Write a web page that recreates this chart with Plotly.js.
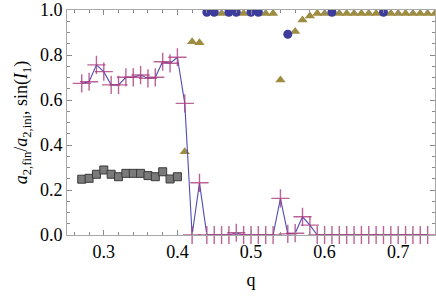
<!DOCTYPE html>
<html>
<head>
<meta charset="utf-8">
<script src="https://cdn.plot.ly/plotly-3.0.1.min.js"></script>
<style>html,body{margin:0;padding:0;background:#fff;}#chart{width:436px;height:302px;}</style>
</head>
<body>
<div id="chart"></div>
<script>
// ratio a2,fin/a2,ini (plus markers joined by a line)
const qPlus = [0.27,0.28,0.29,0.30,0.31,0.32,0.33,0.34,0.35,0.36,0.37,0.38,0.39,0.40,0.41,
  0.42,0.43,0.44,0.45,0.46,0.47,0.48,0.49,0.50,0.51,0.52,0.53,0.54,0.55,0.56,0.57,0.58,
  0.59,0.60,0.61,0.62,0.63,0.64,0.65,0.66,0.67,0.68,0.69,0.70,0.71,0.72,0.73,0.74];
const ratioPlus = [0.674,0.681,0.756,0.726,0.667,0.667,0.701,0.701,0.711,0.696,0.701,0.770,0.763,0.790,0.585,
  0.0,0.232,0.0,0.0,0.0,0.0,0.01,0.0,0.0,0.0,0.0,0.0,0.163,0.005,0.008,0.081,0.044,
  0.0,0.0,0.0,0.0,0.0,0.0,0.0,0.0,0.0,0.0,0.0,0.0,0.0,0.0,0.0,0.0];

// grey squares
const qSquare = [0.27,0.28,0.29,0.30,0.31,0.32,0.33,0.34,0.35,0.36,0.37,0.38,0.39,0.40];
const valSquare = [0.248,0.252,0.270,0.289,0.270,0.259,0.274,0.274,0.274,0.264,0.259,0.281,0.249,0.259];

// sin(I1) triangles
const qTri = [0.41,0.42,0.43,0.46,0.49,0.52,0.53,0.54,0.56,0.57,0.58,0.59,0.60,
  0.62,0.63,0.64,0.65,0.66,0.67,0.69,0.70,0.71,0.72,0.73,0.74,0.75];
const valTri = [0.370,0.859,0.855,0.985,0.985,0.985,0.985,0.689,0.904,0.956,0.973,0.985,0.985,
  0.985,0.985,0.985,0.985,0.985,0.985,0.985,0.985,0.985,0.985,0.985,0.985,0.985];

// sin(I1) circles
const qCirc = [0.44,0.45,0.47,0.48,0.50,0.51,0.55,0.61,0.68];
const valCirc = [0.99,0.99,0.99,0.99,0.99,0.99,0.892,0.99,0.99];

const serif = 'Liberation Serif, Times New Roman, serif';

const traces = [
  {x:qSquare, y:valSquare, type:'scatter', mode:'markers',
   marker:{symbol:'square', size:8, color:'#7a7a7a', line:{color:'#3a3a3a', width:1}}},
  {x:qTri, y:valTri, type:'scatter', mode:'markers',
   marker:{symbol:'triangle-up', size:9, color:'#9e8c40', line:{width:0}}},
  {x:qCirc, y:valCirc, type:'scatter', mode:'markers',
   marker:{symbol:'circle', size:9, color:'#3c3c9c', line:{width:0}}},
  {x:qPlus, y:ratioPlus, type:'scatter', mode:'lines+markers', cliponaxis:false,
   line:{color:'#4d4db8', width:1.1},
   marker:{symbol:'cross-thin', size:13, color:'rgba(170,60,125,0.8)', line:{color:'rgba(170,60,125,0.8)', width:1.4}}}
];

const axisCommon = {
  showline:true, linecolor:'#a8a8a8', linewidth:1, mirror:'allticks',
  ticks:'inside', ticklen:5, tickwidth:1, tickcolor:'#8a8a8a',
  showgrid:false, zeroline:false,
  tickfont:{family:serif, size:18, color:'#000'}
};

const layout = {
  width:436, height:302,
  margin:{l:67, r:1, t:10, b:67},
  paper_bgcolor:'#fff', plot_bgcolor:'#fff',
  showlegend:false,
  xaxis:Object.assign({}, axisCommon, {
    range:[0.25,0.75], tick0:0.3, dtick:0.1, tickformat:'.1f',
    minor:{dtick:0.02, tick0:0.3, ticks:'inside', ticklen:3, tickcolor:'#8a8a8a', showgrid:false},
    title:{text:'q', font:{family:serif, size:18, color:'#000'}, standoff:12}
  }),
  yaxis:Object.assign({}, axisCommon, {
    range:[0,1], tick0:0, dtick:0.2, tickformat:'.1f',
    minor:{dtick:0.05, tick0:0, ticks:'inside', ticklen:3, tickcolor:'#8a8a8a', showgrid:false},
    title:{text:'<i>a</i><sub>2,fin</sub>/<i>a</i><sub>2,ini</sub>, sin(<i>I</i><sub>1</sub>)',
      font:{family:serif, size:18, color:'#000'}, standoff:7}
  })
};

Plotly.newPlot('chart', traces, layout, {staticPlot:true, displayModeBar:false});
</script>
</body>
</html>
